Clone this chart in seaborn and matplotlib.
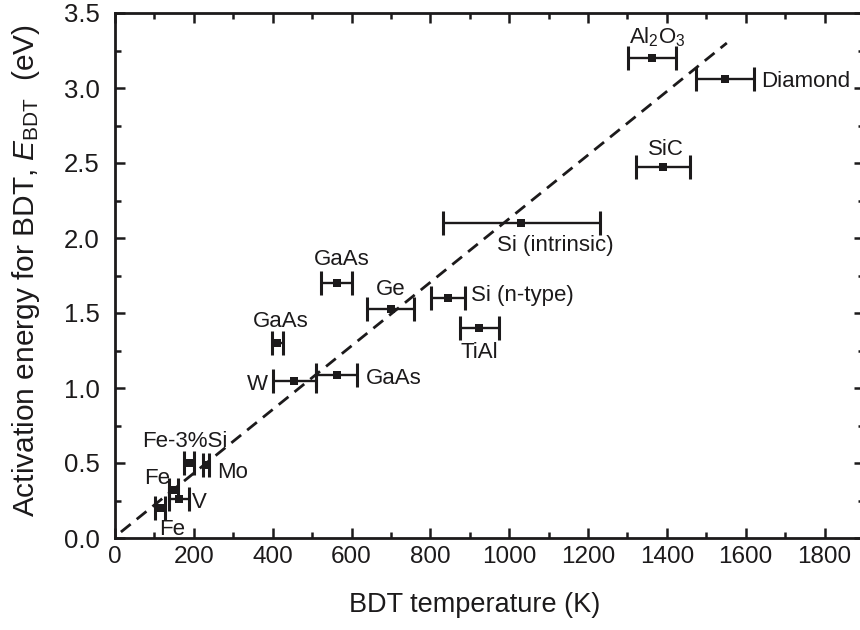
import matplotlib
matplotlib.use("Agg")
import matplotlib.pyplot as plt
from matplotlib.ticker import MultipleLocator, FormatStrFormatter
import seaborn as sns
import pandas as pd

# Brittle-to-ductile transition data
materials = ["Al$_2$O$_3$", "Diamond", "SiC", "Si (intrinsic)", "Si (n-type)",
             "TiAl", "Ge", "GaAs", "GaAs", "W", "GaAs", "Fe-3%Si", "Mo",
             "Fe", "V", "Fe"]
bdt_temp = [1362, 1547, 1390, 1031, 845, 924, 699, 562, 412, 455, 562,
            188, 231, 148, 162, 114]
bdt_temp_err = [61, 73, 68, 200, 44, 50, 59, 40, 14, 55, 52, 13, 7, 12, 25, 13]
activation_energy = [3.20, 3.06, 2.47, 2.10, 1.60, 1.40, 1.53, 1.70, 1.30,
                     1.05, 1.09, 0.50, 0.49, 0.32, 0.26, 0.20]

# Linear trend line endpoints
trend_temp = [15, 1552]
trend_energy = [0.04, 3.30]

# Label anchors (left edge, baseline) for each material
label_x = [1303, 1638, 1352, 970, 904, 877, 663, 505, 351, 335, 636,
           69, 258, 74, 194, 112]
label_y = [3.30, 3.005, 2.553, 1.913, 1.58, 1.20, 1.62, 1.82, 1.409, 0.99,
           1.03, 0.605, 0.398, 0.36, 0.198, 0.02]

df = pd.DataFrame({"material": materials, "T": bdt_temp, "dT": bdt_temp_err,
                   "E": activation_energy})
trend = pd.DataFrame({"T": trend_temp, "E": trend_energy})

sns.set_theme(style="ticks")
plt.rcParams["font.family"] = ["Liberation Sans", "DejaVu Sans"]
plt.rcParams["mathtext.fontset"] = "custom"
plt.rcParams["mathtext.rm"] = "Liberation Sans"
plt.rcParams["mathtext.it"] = "Liberation Sans:italic"
plt.rcParams["mathtext.bf"] = "Liberation Sans:bold"

ink = "#1c1a1b"

fig = plt.figure(figsize=(8.6, 6.3), dpi=100)
ax = fig.add_axes([115 / 860, 92 / 630, 749 / 860, 525 / 630])

sns.lineplot(data=trend, x="T", y="E", ax=ax, color=ink, lw=2.0,
             dashes=False, linestyle=(0, (4.5, 2.8)), legend=False)

ax.errorbar(df["T"], df["E"], xerr=df["dT"], fmt="none", ecolor=ink,
            elinewidth=1.7, capsize=8.3, capthick=2.2, zorder=3)
sns.scatterplot(data=df, x="T", y="E", ax=ax, marker="s", s=36,
                color=ink, edgecolor=ink, linewidth=0, zorder=4, legend=False)

for name, tx, ty in zip(materials, label_x, label_y):
    ax.text(tx, ty, name, ha="left", va="baseline", fontsize=16, color=ink)

ax.set_xlim(0, 1900)
ax.set_ylim(0, 3.5)
ax.xaxis.set_major_locator(MultipleLocator(200))
ax.xaxis.set_minor_locator(MultipleLocator(100))
ax.yaxis.set_major_locator(MultipleLocator(0.5))
ax.yaxis.set_minor_locator(MultipleLocator(0.25))
ax.yaxis.set_major_formatter(FormatStrFormatter("%.1f"))
ax.set_xticks([0, 200, 400, 600, 800, 1000, 1200, 1400, 1600, 1800])

ax.tick_params(which="both", direction="in", top=True, right=True,
               color=ink, labelcolor=ink, labelsize=17.5, width=1.8)
ax.tick_params(which="major", length=7.5)
ax.tick_params(axis="y", which="major", pad=11, labelsize=18.5)
ax.tick_params(axis="x", which="major", pad=6)
ax.tick_params(which="minor", length=4.5)
for sp in ax.spines.values():
    sp.set_linewidth(2.0)
    sp.set_color(ink)

ax.set_xlabel("BDT temperature (K)", fontsize=19.5, color=ink)
ax.set_ylabel(r"Activation energy for BDT, $E_{\mathrm{BDT}}$  (eV)",
              fontsize=21.5, color=ink)
ax.xaxis.set_label_coords((475 - 115) / 749, -0.102)
ax.yaxis.set_label_coords(-0.098, 0.51)

fig.savefig("out.png", dpi=100)
